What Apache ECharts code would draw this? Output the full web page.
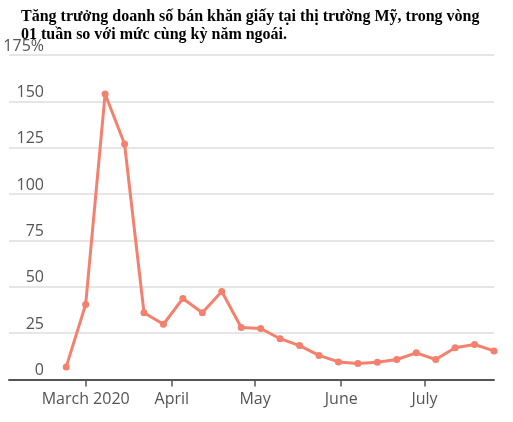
<!DOCTYPE html>
<html>
<head>
<meta charset="utf-8">
<script src="https://cdn.jsdelivr.net/npm/echarts@6/dist/echarts.min.js"></script>
<style>
html,body{margin:0;padding:0;background:#fff;}
#c{width:513px;height:422px;}
</style>
</head>
<body>
<div id="c"></div>
<script>
// Week dates (weekly points) and year-over-year growth (%)
const weekDates = ['2020-02-23','2020-03-01','2020-03-08','2020-03-15','2020-03-22','2020-03-29',
  '2020-04-05','2020-04-12','2020-04-19','2020-04-26','2020-05-03','2020-05-10','2020-05-17',
  '2020-05-24','2020-05-31','2020-06-07','2020-06-14','2020-06-21','2020-06-28','2020-07-05',
  '2020-07-12','2020-07-19','2020-07-26'];
const growthValues = [6.8, 40.5, 154, 127, 36, 29.8, 43.7, 36, 47.5, 28, 27.5, 22, 18.3,
  13, 9.5, 8.6, 9.3, 10.8, 14.4, 10.8, 17.1, 18.9, 15.4];
const monthTicks = ['2020-03-01','2020-04-01','2020-05-01','2020-06-01','2020-07-01'];
const monthLabels = ['March 2020','April','May','June','July'];
const yTicks = [0, 25, 50, 75, 100, 125, 150, 175];
const titleText = 'Tăng trưởng doanh số bán khăn giấy tại thị trường Mỹ, trong vòng\n01 tuần so với mức cùng kỳ năm ngoái.';

// day number since 2020-03-01
const dayNum = s => { const p = s.split('-').map(Number); return (Date.UTC(p[0], p[1]-1, p[2]) - Date.UTC(2020, 2, 1)) / 864e5; };
const tickDays = monthTicks.map(dayNum);
const labelMap = {};
tickDays.forEach((t, i) => { labelMap[t] = monthLabels[i]; });

const chart = echarts.init(document.getElementById('c'), null, {renderer: 'canvas'});
chart.setOption({
  animation: false,
  backgroundColor: '#fff',
  title: {
    text: titleText,
    left: 16, top: 3,
    textStyle: {
      fontFamily: '"Liberation Serif", "Times New Roman", serif',
      fontWeight: 'bold', fontSize: 16, lineHeight: 18, color: '#000'
    }
  },
  grid: {left: 9, right: 19, top: 55, bottom: 42.5, containLabel: false},
  xAxis: {
    type: 'value',
    min: -27.6,
    max: dayNum('2020-07-26'),
    axisLine: {show: true, lineStyle: {color: '#555', width: 2}},
    axisTick: {show: true, customValues: tickDays, length: 7, lineStyle: {color: '#555', width: 1.5}},
    axisLabel: {
      customValues: tickDays,
      formatter: v => labelMap[v] || '',
      fontFamily: '"Open Sans", sans-serif', fontSize: 16, color: '#555', margin: 12
    },
    splitLine: {show: false}
  },
  yAxis: {
    type: 'value', min: 0, max: 175, interval: 25,
    axisLine: {show: false}, axisTick: {show: false},
    splitLine: {show: true, lineStyle: {color: '#e6e6e6', width: 2}},
    axisLabel: {
      inside: true, align: 'right', verticalAlign: 'bottom', margin: 35,
      padding: [0, 0, 1, 0],
      formatter: v => (v === yTicks[yTicks.length - 1] ? v + '%' : String(v)),
      fontFamily: '"Open Sans", sans-serif', fontSize: 16, color: '#555'
    }
  },
  series: [{
    type: 'line',
    data: weekDates.map((d, i) => [dayNum(d), growthValues[i]]),
    symbol: 'circle', symbolSize: 7, showSymbol: true,
    lineStyle: {color: '#f4806e', width: 3},
    itemStyle: {color: '#f4806e'},
    z: 5
  }]
});
</script>
</body>
</html>
